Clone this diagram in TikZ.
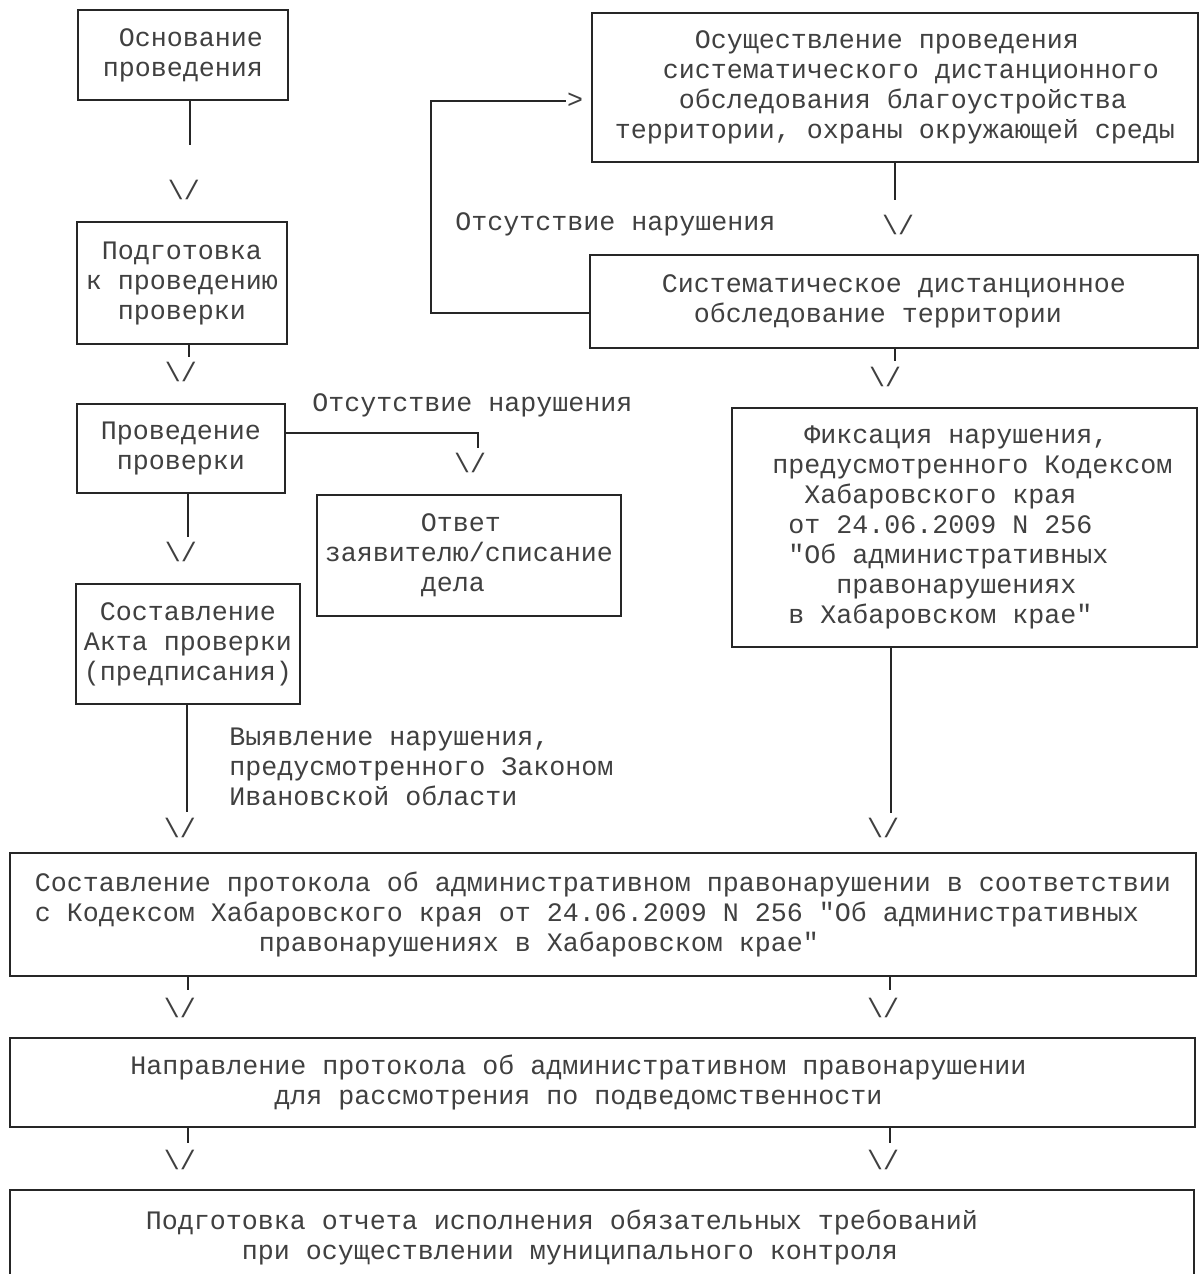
\documentclass[tikz,border=0pt]{standalone}
\usepackage{fontspec}
\newfontfamily\monof{Liberation Mono}
\newcommand\txtfont{\monof\fontsize{20}{22.5}\selectfont}
\newcommand\ind[1]{\hspace*{#1\dimexpr0.6em\relax}}
\def\pxs{0.75pt}
\tikzset{
  box/.style={draw=black!85, line width=1.2pt, inner sep=0pt, align=left, text=black!75, font=\txtfont},
  lab/.style={inner sep=0pt, align=left, text=black!75, font=\txtfont},
  conn/.style={draw=black!85, line width=1.2pt},
}
\begin{document}
\begin{tikzpicture}[x=0.75pt, y=-0.75pt]
\useasboundingbox[fill=white] (0,0) rectangle (1199,1274);

% left column boxes
\node[box, minimum width={210*\pxs}, minimum height={90*\pxs}] (b1) at (183,55)
  {\ind{1}Основание\\проведения};
\node[box, minimum width={210*\pxs}, minimum height={122*\pxs}] (b2) at (182,283)
  {\ind{1}Подготовка\\к проведению\\\ind{2}проверки};
\node[box, minimum width={208*\pxs}, minimum height={89*\pxs}] (b3) at (181,448.5)
  {Проведение\\\ind{1}проверки};
\node[box, minimum width={304*\pxs}, minimum height={121*\pxs}] (b4) at (469,555.5)
  {\ind{6}Ответ\\заявителю/списание\\\ind{6}дела};
\node[box, minimum width={224*\pxs}, minimum height={120*\pxs}] (b5) at (188,644)
  {\ind{1}Составление\\Акта проверки\\(предписания)};

% right column boxes
\node[box, minimum width={606*\pxs}, minimum height={149*\pxs}] (b6) at (895,87.5)
  {\ind{5}Осуществление проведения\\\ind{3}систематического дистанционного\\\ind{4}обследования благоустройства\\территории, охраны окружающей среды};
\node[box, minimum width={608*\pxs}, minimum height={93*\pxs}] (b7) at (894,301.5)
  {Систематическое дистанционное\\\ind{2}обследование территории};
\node[box, minimum width={465*\pxs}, minimum height={239*\pxs}] (b8) at (964.5,527.5)
  {\ind{3}Фиксация нарушения,\\\ind{1}предусмотренного Кодексом\\\ind{3}Хабаровского края\\\ind{2}от 24.06.2009 N 256\\\ind{2}"Об административных\\\ind{5}правонарушениях\\\ind{2}в Хабаровском крае"};

% bottom wide boxes
\node[box, minimum width={1186*\pxs}, minimum height={123*\pxs}] (b9) at (603,914.5)
  {Составление протокола об административном правонарушении в соответствии\\с Кодексом Хабаровского края от 24.06.2009 N 256 "Об административных\\\ind{14}правонарушениях в Хабаровском крае"};
\node[box, minimum width={1185*\pxs}, minimum height={89*\pxs}] (b10) at (602.5,1082.5)
  {Направление протокола об административном правонарушении\ind{3}\\\ind{9}для рассмотрения по подведомственности};
\node[box, minimum width={1184*\pxs}, minimum height={95*\pxs}] (b11) at (602,1237.5)
  {Подготовка отчета исполнения обязательных требований\ind{5}\\\ind{6}при осуществлении муниципального контроля};

% free labels
\node[lab, anchor=west] (l1) at (455,224) {Отсутствие нарушения};
\node[lab, anchor=west] (l2) at (312,405) {Отсутствие нарушения};
\node[lab, anchor=west] (l3) at (229,767) {Выявление нарушения,\\предусмотренного Законом\\Ивановской области};

% arrow heads drawn as text
\node[lab] (a1) at (184,190) {\textbackslash/};
\node[lab] (a2) at (181,372) {\textbackslash/};
\node[lab] (a3) at (181,552) {\textbackslash/};
\node[lab] (a4) at (470,463) {\textbackslash/};
\node[lab] (a5) at (180,828) {\textbackslash/};
\node[lab] (a6) at (883,828) {\textbackslash/};
\node[lab] (a7) at (898,225) {\textbackslash/};
\node[lab] (a8) at (885,377) {\textbackslash/};
\node[lab] (a9) at (180,1008) {\textbackslash/};
\node[lab] (a10) at (883,1008) {\textbackslash/};
\node[lab] (a11) at (180,1160) {\textbackslash/};
\node[lab] (a12) at (883,1160) {\textbackslash/};
\node[lab] (gt) at (575,101) {>};

% connector ends
\coordinate (e1) at (190,145);
\coordinate (e2) at (189,357);
\coordinate (e3) at (188,537);
\coordinate (e4a) at (478,433);
\coordinate (e4) at (478,448);
\coordinate (e5) at (187,812);
\coordinate (e6) at (895,200);
\coordinate (e7) at (895,361);
\coordinate (e8) at (891,813);
\coordinate (e9) at (188,990);
\coordinate (e10) at (890,990);
\coordinate (e11) at (188,1143);
\coordinate (e12) at (890,1143);
\coordinate (k1) at (431,313);
\coordinate (k2) at (566,101);

\draw[conn] (b1.south -| e1) -- (e1);
\draw[conn] (b2.south -| e2) -- (e2);
\draw[conn] (b3.south -| e3) -- (e3);
\draw[conn] (b3.east |- e4a) -- (e4a) -- (e4);
\draw[conn] (b5.south -| e5) -- (e5);
\draw[conn] (b6.south -| e6) -- (e6);
\draw[conn] (b7.south -| e7) -- (e7);
\draw[conn] (b8.south -| e8) -- (e8);
\draw[conn] (b9.south -| e9) -- (e9);
\draw[conn] (b9.south -| e10) -- (e10);
\draw[conn] (b10.south -| e11) -- (e11);
\draw[conn] (b10.south -| e12) -- (e12);
\draw[conn] (b7.west |- k1) -- (k1) -- (k1 |- k2) -- (k2);
\end{tikzpicture}
\end{document}
